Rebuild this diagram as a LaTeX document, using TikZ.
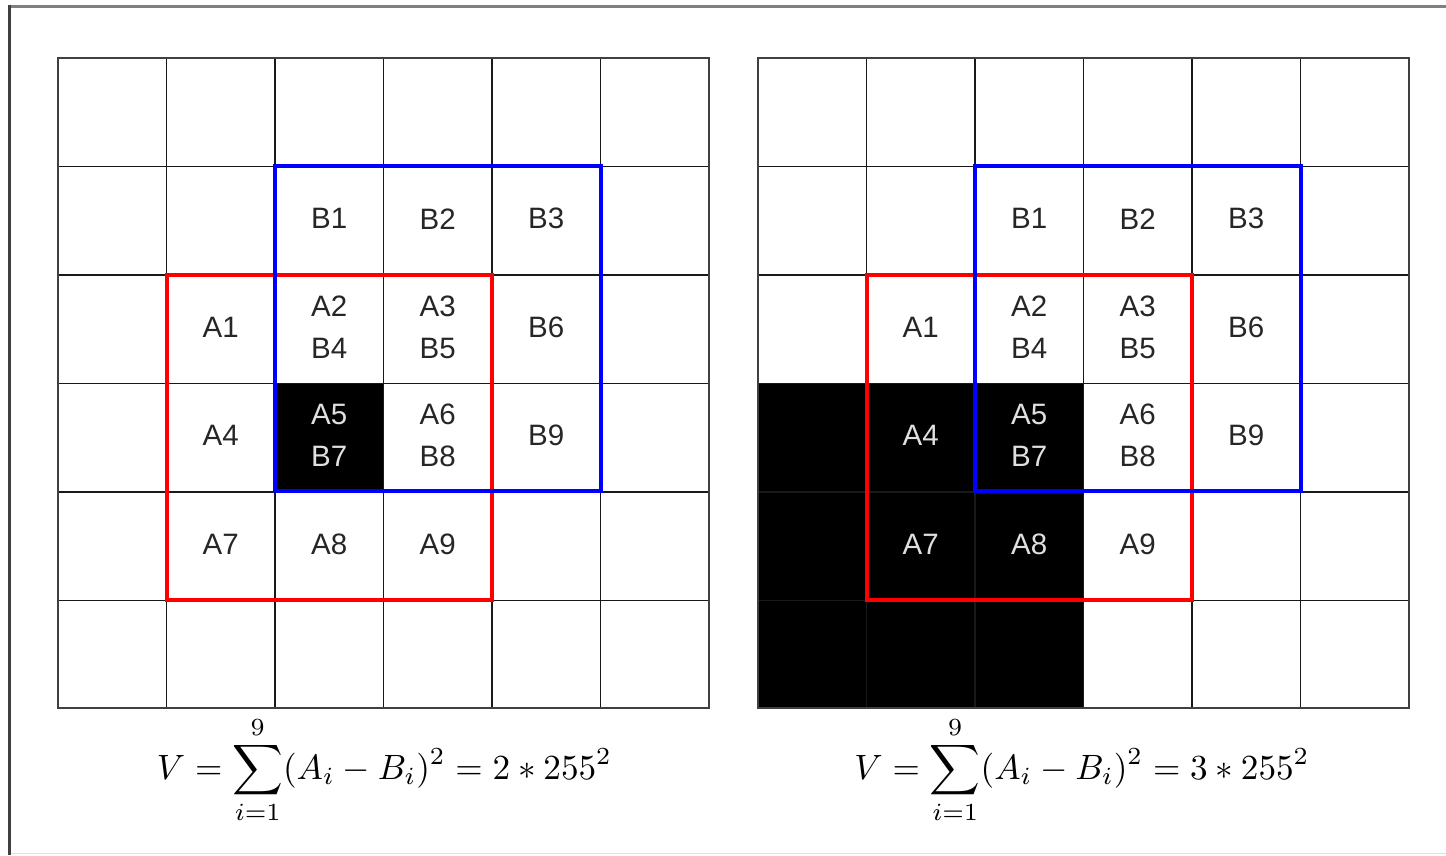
\documentclass[tikz,border=0pt]{standalone}
\usepackage{fontspec}
\newfontfamily\labfont{Liberation Sans}
\usepackage{amsmath}
\begin{document}
\begin{tikzpicture}[x=1pt,y=-1pt,
  lab/.style={font=\labfont\fontsize{29.5}{42}\selectfont, align=center, inner sep=0pt},
  gridline/.style={draw=black!90, line width=1.4pt},
  gridframe/.style={draw=black!75, line width=2.6pt, line join=miter},
  redbox/.style={draw=red, line width=4pt, line join=miter},
  bluebox/.style={draw=blue, line width=4pt, line join=miter},
  formula/.style={inner sep=0pt}]
\useasboundingbox (0,0) rectangle (1446,855);
% outer frame
\draw[draw=black!50, line width=3pt] (7.5,6) -- (1446,6);
\draw[draw=black!75, line width=3pt] (9,4.5) -- (9,855);
\draw[draw=black!12, line width=1.5pt] (10.5,853.5) -- (1446,853.5);
% black cells
\fill[black] (275,382.5) rectangle (383.5,491);
\fill[black] (758,382.5) rectangle (1083.5,708);
% panels
\foreach \dx in {0, 700} {
\begin{scope}[shift={(\dx,0)}]
  \foreach \i in {1,...,5} {
    \draw[gridline] ({58+108.5*\i},58) -- ({58+108.5*\i},708);
    \draw[gridline] (58,{58+108.5*\i}) -- (709,{58+108.5*\i});
  }
  \draw[gridframe] (58,58) rectangle (709,708);
  \draw[redbox] (166.5,274.5) rectangle (492,599.5);
  \draw[bluebox] (275,166) rectangle (600.5,491);
\end{scope}
}
% labels left
\foreach \c/\r/\t/\k/\n in {2/1/B1/black!85/b1, 3/1/B2/black!85/b2, 4/1/B3/black!85/b3,
  1/2/A1/black!85/a1, 2/2/{A2\\B4}/black!85/a2, 3/2/{A3\\B5}/black!85/a3, 4/2/B6/black!85/b6,
  1/3/A4/black!85/a4, 2/3/{A5\\B7}/white!88!black/a5, 3/3/{A6\\B8}/black!85/a6, 4/3/B9/black!85/b9,
  1/4/A7/black!85/a7, 2/4/A8/black!85/a8, 3/4/A9/black!85/a9} {
  \node[lab, text=\k] (L\n) at ({58+108.5*(\c+0.5)},{56+108.5*(\r+0.5)}) {\t};
}
% labels right
\foreach \c/\r/\t/\k/\n in {2/1/B1/black!85/b1, 3/1/B2/black!85/b2, 4/1/B3/black!85/b3,
  1/2/A1/black!85/a1, 2/2/{A2\\B4}/black!85/a2, 3/2/{A3\\B5}/black!85/a3, 4/2/B6/black!85/b6,
  1/3/A4/white!88!black/a4, 2/3/{A5\\B7}/white!88!black/a5, 3/3/{A6\\B8}/black!85/a6, 4/3/B9/black!85/b9,
  1/4/A7/white!88!black/a7, 2/4/A8/white!88!black/a8, 3/4/A9/black!85/a9} {
  \node[lab, text=\k] (R\n) at ({758+108.5*(\c+0.5)},{56+108.5*(\r+0.5)}) {\t};
}
% formulas
\node[formula] (fL) at (384.5,770) {\resizebox{455pt}{!}{$\displaystyle V=\sum_{i=1}^{9}(A_i-B_i)^2 = 2*255^2$}};
\node[formula] (fR) at (1082,770) {\resizebox{455pt}{!}{$\displaystyle V=\sum_{i=1}^{9}(A_i-B_i)^2 = 3*255^2$}};
\end{tikzpicture}
\end{document}
